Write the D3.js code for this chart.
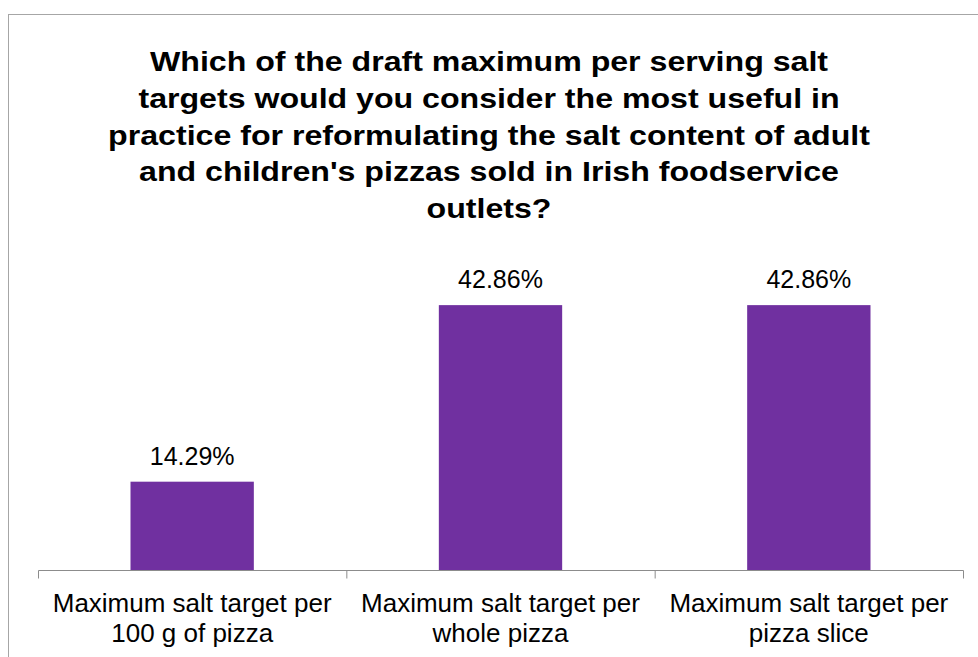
<!DOCTYPE html>
<html>
<head>
<meta charset="utf-8">
<script src="https://cdn.jsdelivr.net/npm/d3@7/dist/d3.min.js"></script>
<style>
  html, body { margin: 0; padding: 0; background: #fff; }
  svg { display: block; font-family: "Liberation Sans", Arial, sans-serif; }
</style>
</head>
<body>
<svg id="chart" width="978" height="657"></svg>
<script>
// Survey responses
const categories = [
  ["Maximum salt target per", "100 g of pizza"],
  ["Maximum salt target per", "whole pizza"],
  ["Maximum salt target per", "pizza slice"]
];
const values = [14.29, 42.86, 42.86];
const valueLabels = ["14.29%", "42.86%", "42.86%"];
const titleLines = [
  "Which of the draft maximum per serving salt",
  "targets would you consider the most useful in",
  "practice for reformulating the salt content of adult",
  "and children's pizzas sold in Irish foodservice",
  "outlets?"
];

const svg = d3.select("#chart");
const W = 978, H = 657;

// Chart frame
svg.append("rect")
  .attr("x", 8.5).attr("y", 14.5)
  .attr("width", W + 10).attr("height", H + 10)
  .attr("fill", "#fff").attr("stroke", "#a6a6a6").attr("stroke-width", 1);

// Title (wide bold face)
svg.append("text")
  .attr("transform", "translate(489,0) scale(1.19,1)")
  .attr("text-anchor", "middle")
  .attr("font-weight", "bold")
  .attr("font-size", 27)
  .attr("fill", "#000")
  .selectAll("tspan")
  .data(titleLines)
  .join("tspan")
  .attr("x", 0)
  .attr("y", (d, i) => 71 + i * 36.8)
  .text(d => d);

const x = d3.scaleBand()
  .domain(d3.range(categories.length))
  .range([38, 963])
  .paddingInner(0.6)
  .paddingOuter(0.3);

const baseY = 570;
const y = d3.scaleLinear().domain([0, 50]).range([baseY, 261]);

// Bars
svg.append("g").selectAll("rect")
  .data(values)
  .join("rect")
  .attr("x", (d, i) => x(i))
  .attr("width", x.bandwidth())
  .attr("y", d => y(d))
  .attr("height", d => baseY - y(d))
  .attr("fill", "#7030a0");

// Value labels
svg.append("g").selectAll("text")
  .data(values)
  .join("text")
  .attr("x", (d, i) => x(i) + x.bandwidth() / 2)
  .attr("y", d => y(d) - 17)
  .attr("text-anchor", "middle")
  .attr("font-size", 25)
  .attr("fill", "#000")
  .text((d, i) => valueLabels[i]);

// Category axis with boundary ticks
const axisX = d3.scaleLinear().domain([0, categories.length]).range([38, 963]);
const axis = d3.axisBottom(axisX)
  .tickValues(d3.range(categories.length + 1))
  .tickSize(8)
  .tickFormat("");
const gAxis = svg.append("g")
  .attr("transform", `translate(0,${baseY + 0.5})`)
  .call(axis);
gAxis.select(".domain").attr("stroke", "#8c8c8c").attr("d", "M38.5,0H963.5");
gAxis.selectAll(".tick line").attr("stroke", "#8c8c8c");

const catText = svg.append("g").selectAll("text")
  .data(categories)
  .join("text")
  .attr("text-anchor", "middle")
  .attr("font-size", 26)
  .attr("fill", "#000");
catText.selectAll("tspan")
  .data((d, i) => d.map(t => ({ t, i })))
  .join("tspan")
  .attr("x", d => x(d.i) + x.bandwidth() / 2)
  .attr("y", (d, j) => 612 + j * 30)
  .text(d => d.t);
</script>
</body>
</html>
